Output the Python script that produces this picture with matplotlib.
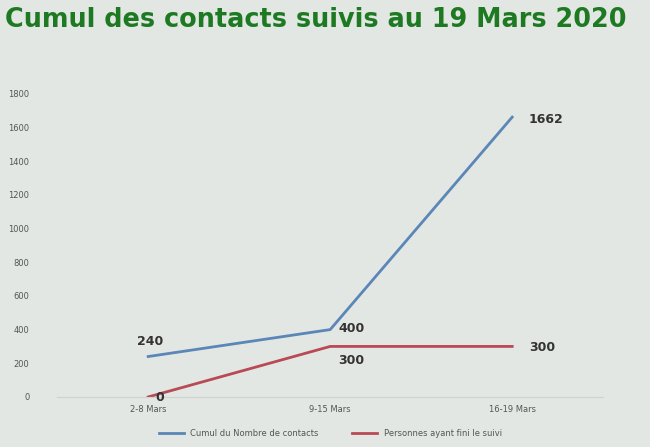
import matplotlib.pyplot as plt

# data
categories = ["2-8 Mars", "9-15 Mars", "16-19 Mars"]
contacts = [240, 400, 1662]
finis = [0, 300, 300]
yticks = [0, 200, 400, 600, 800, 1000, 1200, 1400, 1600, 1800]

bg = "#e3e7e3"
fig = plt.figure(figsize=(6.5, 4.47), dpi=100, facecolor=bg)
ax = fig.add_axes([0.088, 0.112, 0.84, 0.678], facecolor=bg)

x = range(len(categories))
ax.plot(x, contacts, color="#5b86b8", lw=2, label="Cumul du Nombre de contacts")
ax.plot(x, finis, color="#b94a55", lw=2, label="Personnes ayant fini le suivi")

ax.set_xlim(-0.5, 2.5)
ax.set_ylim(0, 1800)
ax.set_yticks(yticks)
ax.set_xticks(list(x))
ax.set_xticklabels(categories)
ax.tick_params(length=0, labelsize=6, colors="#555555")
ax.tick_params(axis="y", pad=20)
ax.tick_params(axis="x", pad=6)
for s in ["top", "right", "left"]:
    ax.spines[s].set_visible(False)
ax.spines["bottom"].set_color("#cfd3cf")

lab = dict(fontsize=9, fontweight="bold", color="#333333")
ax.annotate(str(contacts[0]), (0, contacts[0]), xytext=(-8, 8), textcoords="offset points", **lab)
ax.annotate(str(contacts[1]), (1, contacts[1]), xytext=(6, -2), textcoords="offset points", **lab)
ax.annotate(str(contacts[2]), (2, contacts[2]), xytext=(12, -4), textcoords="offset points", **lab)
ax.annotate(str(finis[0]), (0, finis[0]), xytext=(5, -3), textcoords="offset points", **lab)
ax.annotate(str(finis[1]), (1, finis[1]), xytext=(6, -13), textcoords="offset points", **lab)
ax.annotate(str(finis[2]), (2, finis[2]), xytext=(12, -3), textcoords="offset points", **lab)

ax.legend(loc="upper center", bbox_to_anchor=(0.5, -0.08), ncol=2, frameon=False,
          fontsize=6, handlelength=3, columnspacing=4, labelcolor="#555555")

fig.text(0.008, 0.955, "Cumul des contacts suivis au 19 Mars 2020", color="#1e7a22",
         fontsize=18.4, fontweight="bold", va="center", ha="left")

fig.savefig("out.png", dpi=100, facecolor=bg)
